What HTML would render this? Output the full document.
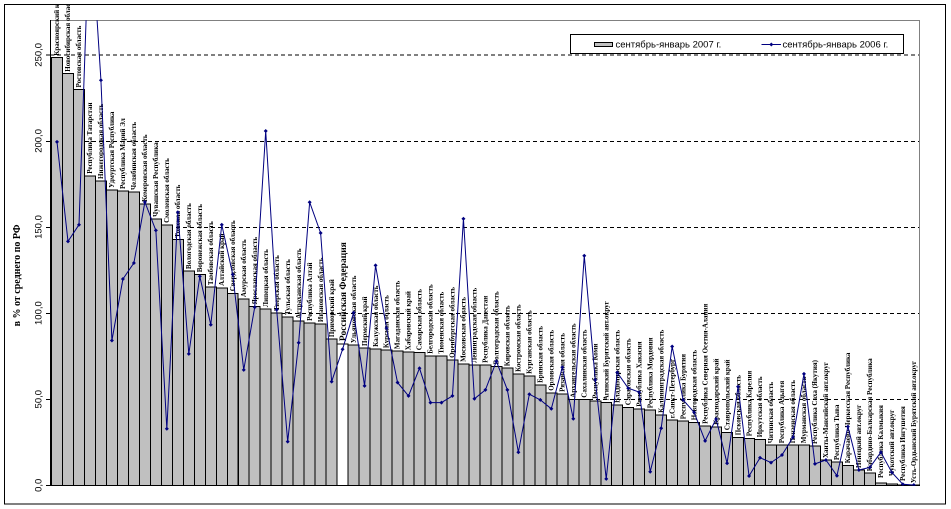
<!DOCTYPE html>
<html><head><meta charset="utf-8"><style>
html,body{margin:0;padding:0;background:#fff;}
svg{display:block;}
.lb{font-family:"Liberation Serif","DejaVu Serif",serif;font-size:7px;font-weight:bold;fill:#000;}
.tk{font-family:"Liberation Sans","DejaVu Sans",sans-serif;font-size:9.5px;fill:#000;}
</style></head><body>
<svg width="951" height="509" viewBox="0 0 951 509" xmlns="http://www.w3.org/2000/svg">
<defs>
<clipPath id="pc"><rect x="50" y="20.3" width="869.5" height="465.5"/></clipPath>
<clipPath id="fc"><rect x="5" y="5" width="940" height="499"/></clipPath>
<path id="m" d="M0,-2L2,0L0,2L-2,0Z" fill="#000080"/>
</defs>
<rect x="0" y="0" width="951" height="509" fill="#fff"/>
<rect x="4.5" y="4.5" width="941" height="499.5" fill="#fff" stroke="#000" stroke-width="1"/>

<g stroke="#000" stroke-width="1" stroke-dasharray="4 3" shape-rendering="crispEdges">
<line x1="50" y1="55" x2="919" y2="55"/>
<line x1="50" y1="141.5" x2="919" y2="141.5"/>
<line x1="50" y1="227.5" x2="919" y2="227.5"/>
<line x1="50" y1="313.5" x2="919" y2="313.5"/>
<line x1="50" y1="399.5" x2="919" y2="399.5"/>
</g>
<g stroke="#808080" stroke-width="1" shape-rendering="crispEdges">
<line x1="50" y1="20.5" x2="919.5" y2="20.5"/>
<line x1="919.5" y1="20" x2="919.5" y2="485.5"/>
</g>

<g fill="#c0c0c0" stroke="#000" stroke-width="1" shape-rendering="crispEdges">
<rect x="51.5" y="57.7" width="10.985" height="427.6"/>
<rect x="62.49" y="73.7" width="10.985" height="411.6"/>
<rect x="73.47" y="89.5" width="10.985" height="395.8"/>
<rect x="84.46" y="175.8" width="10.985" height="309.5"/>
<rect x="95.44" y="181.0" width="10.985" height="304.3"/>
<rect x="106.43" y="189.9" width="10.985" height="295.4"/>
<rect x="117.41" y="191.0" width="10.985" height="294.3"/>
<rect x="128.40" y="192.0" width="10.985" height="293.3"/>
<rect x="139.38" y="203.9" width="10.985" height="281.4"/>
<rect x="150.37" y="218.9" width="10.985" height="266.4"/>
<rect x="161.35" y="224.9" width="10.985" height="260.4"/>
<rect x="172.34" y="239.7" width="10.985" height="245.6"/>
<rect x="183.32" y="271.1" width="10.985" height="214.2"/>
<rect x="194.31" y="274.3" width="10.985" height="211.0"/>
<rect x="205.29" y="287.1" width="10.985" height="198.2"/>
<rect x="216.28" y="287.9" width="10.985" height="197.4"/>
<rect x="227.26" y="293.3" width="10.985" height="192.0"/>
<rect x="238.25" y="299.1" width="10.985" height="186.2"/>
<rect x="249.23" y="306.4" width="10.985" height="178.9"/>
<rect x="260.22" y="309.1" width="10.985" height="176.2"/>
<rect x="271.20" y="312.9" width="10.985" height="172.4"/>
<rect x="282.19" y="317.0" width="10.985" height="168.3"/>
<rect x="293.17" y="320.8" width="10.985" height="164.5"/>
<rect x="304.16" y="322.9" width="10.985" height="162.4"/>
<rect x="315.14" y="324.1" width="10.985" height="161.2"/>
<rect x="326.13" y="339.1" width="10.985" height="146.2"/>
<rect x="337.11" y="344.1" width="10.985" height="141.2" fill="#fff"/>
<rect x="348.10" y="345.1" width="10.985" height="140.2"/>
<rect x="359.08" y="348.0" width="10.985" height="137.3"/>
<rect x="370.07" y="348.9" width="10.985" height="136.4"/>
<rect x="381.05" y="350.1" width="10.985" height="135.2"/>
<rect x="392.04" y="351.1" width="10.985" height="134.2"/>
<rect x="403.02" y="352.2" width="10.985" height="133.1"/>
<rect x="414.01" y="352.3" width="10.985" height="133.0"/>
<rect x="424.99" y="355.8" width="10.985" height="129.5"/>
<rect x="435.98" y="355.8" width="10.985" height="129.5"/>
<rect x="446.96" y="359.9" width="10.985" height="125.4"/>
<rect x="457.95" y="363.9" width="10.985" height="121.4"/>
<rect x="468.93" y="364.9" width="10.985" height="120.4"/>
<rect x="479.92" y="364.9" width="10.985" height="120.4"/>
<rect x="490.90" y="366.5" width="10.985" height="118.8"/>
<rect x="501.89" y="368.2" width="10.985" height="117.1"/>
<rect x="512.87" y="373.9" width="10.985" height="111.4"/>
<rect x="523.86" y="375.9" width="10.985" height="109.4"/>
<rect x="534.84" y="384.9" width="10.985" height="100.4"/>
<rect x="545.83" y="392.8" width="10.985" height="92.5"/>
<rect x="556.81" y="393.9" width="10.985" height="91.4"/>
<rect x="567.80" y="399.7" width="10.985" height="85.6"/>
<rect x="578.78" y="399.7" width="10.985" height="85.6"/>
<rect x="589.77" y="400.9" width="10.985" height="84.4"/>
<rect x="600.75" y="402.3" width="10.985" height="83.0"/>
<rect x="611.74" y="404.9" width="10.985" height="80.4"/>
<rect x="622.72" y="407.3" width="10.985" height="78.0"/>
<rect x="633.71" y="408.8" width="10.985" height="76.5"/>
<rect x="644.69" y="410.2" width="10.985" height="75.1"/>
<rect x="655.68" y="414.9" width="10.985" height="70.4"/>
<rect x="666.66" y="420.2" width="10.985" height="65.1"/>
<rect x="677.65" y="421.2" width="10.985" height="64.1"/>
<rect x="688.63" y="422.3" width="10.985" height="63.0"/>
<rect x="699.62" y="425.9" width="10.985" height="59.4"/>
<rect x="710.60" y="426.9" width="10.985" height="58.4"/>
<rect x="721.59" y="432.3" width="10.985" height="53.0"/>
<rect x="732.57" y="437.3" width="10.985" height="48.0"/>
<rect x="743.56" y="438.3" width="10.985" height="47.0"/>
<rect x="754.54" y="439.3" width="10.985" height="46.0"/>
<rect x="765.53" y="445.2" width="10.985" height="40.1"/>
<rect x="776.51" y="445.2" width="10.985" height="40.1"/>
<rect x="787.50" y="445.2" width="10.985" height="40.1"/>
<rect x="798.48" y="445.2" width="10.985" height="40.1"/>
<rect x="809.47" y="446.0" width="10.985" height="39.3"/>
<rect x="820.45" y="460.0" width="10.985" height="25.3"/>
<rect x="831.44" y="462.1" width="10.985" height="23.2"/>
<rect x="842.42" y="465.3" width="10.985" height="20.0"/>
<rect x="853.41" y="470.0" width="10.985" height="15.3"/>
<rect x="864.39" y="473.2" width="10.985" height="12.1"/>
<rect x="875.38" y="483.2" width="10.985" height="2.1"/>
<rect x="886.36" y="483.9" width="10.985" height="1.4"/>
<rect x="897.35" y="484.8" width="10.985" height="0.5"/>
<rect x="908.33" y="485.1" width="10.985" height="0.2"/>
</g>

<g stroke="#000" stroke-width="1" shape-rendering="crispEdges">
<line x1="50.5" y1="20" x2="50.5" y2="485.5"/>
<line x1="50" y1="485.5" x2="919.5" y2="485.5"/>
<line x1="46" y1="485.5" x2="50" y2="485.5"/>
<line x1="46" y1="399.5" x2="50" y2="399.5"/>
<line x1="46" y1="313.5" x2="50" y2="313.5"/>
<line x1="46" y1="227.5" x2="50" y2="227.5"/>
<line x1="46" y1="141.5" x2="50" y2="141.5"/>
<line x1="46" y1="55" x2="50" y2="55"/>
</g>

<g class="tk" text-anchor="middle">
<text transform="translate(41.7 485.3) rotate(-90)">0,0</text>
<text transform="translate(41.7 399.2) rotate(-90)">50,0</text>
<text transform="translate(41.7 313.1) rotate(-90)">100,0</text>
<text transform="translate(41.7 227.0) rotate(-90)">150,0</text>
<text transform="translate(41.7 140.9) rotate(-90)">200,0</text>
<text transform="translate(41.7 54.8) rotate(-90)">250,0</text>
</g>
<text transform="translate(20 275.5) rotate(-90)" text-anchor="middle" style="font-family:'Liberation Serif','DejaVu Serif',serif;font-size:10px;font-weight:bold;fill:#000">в % от среднего по РФ</text>

<g class="lb" clip-path="url(#fc)">
<text transform="translate(59.2 55.7) rotate(-90)">Красноярский край</text>
<text transform="translate(70.2 71.7) rotate(-90)">Новосибирская область</text>
<text transform="translate(81.2 87.5) rotate(-90)">Ростовская область</text>
<text transform="translate(92.2 173.8) rotate(-90)">Республика Татарстан</text>
<text transform="translate(103.1 179.0) rotate(-90)">Нижегородская область</text>
<text transform="translate(114.1 187.9) rotate(-90)">Удмуртская Республика</text>
<text transform="translate(125.1 189.0) rotate(-90)">Республика Марий Эл</text>
<text transform="translate(136.1 190.0) rotate(-90)">Челябинская область</text>
<text transform="translate(147.1 201.9) rotate(-90)">Кемеровская область</text>
<text transform="translate(158.1 216.9) rotate(-90)">Чувашская Республика</text>
<text transform="translate(169.0 222.9) rotate(-90)">Смоленская область</text>
<text transform="translate(180.0 237.7) rotate(-90)">Томская область</text>
<text transform="translate(191.0 269.1) rotate(-90)">Вологодская область</text>
<text transform="translate(202.0 272.3) rotate(-90)">Воронежская область</text>
<text transform="translate(213.0 285.1) rotate(-90)">Тамбовская область</text>
<text transform="translate(224.0 285.9) rotate(-90)">Алтайский край</text>
<text transform="translate(235.0 291.3) rotate(-90)">Свердловская область</text>
<text transform="translate(245.9 297.1) rotate(-90)">Амурская область</text>
<text transform="translate(256.9 304.4) rotate(-90)">Ярославская область</text>
<text transform="translate(267.9 307.1) rotate(-90)">Липецкая область</text>
<text transform="translate(278.9 310.9) rotate(-90)">Тверская область</text>
<text transform="translate(289.9 315.0) rotate(-90)">Тульская область</text>
<text transform="translate(300.9 318.8) rotate(-90)">Астраханская область</text>
<text transform="translate(311.9 320.9) rotate(-90)">Республика Алтай</text>
<text transform="translate(322.8 322.1) rotate(-90)">Ивановская область</text>
<text transform="translate(333.8 337.1) rotate(-90)">Приморский край</text>
<text transform="translate(345.8 341.1) rotate(-90)" style="font-size:9.5px;font-weight:bold">Российская Федерация</text>
<text transform="translate(355.8 343.1) rotate(-90)">Ульяновская область</text>
<text transform="translate(366.8 346.0) rotate(-90)">Пермский край</text>
<text transform="translate(377.8 346.9) rotate(-90)">Калужская область</text>
<text transform="translate(388.7 348.1) rotate(-90)">Курская область</text>
<text transform="translate(399.7 349.1) rotate(-90)">Магаданская область</text>
<text transform="translate(410.7 350.2) rotate(-90)">Хабаровский край</text>
<text transform="translate(421.7 350.3) rotate(-90)">Самарская область</text>
<text transform="translate(432.7 353.8) rotate(-90)">Белгородская область</text>
<text transform="translate(443.7 353.8) rotate(-90)">Тюменская область</text>
<text transform="translate(454.7 357.9) rotate(-90)">Оренбургская область</text>
<text transform="translate(465.6 361.9) rotate(-90)">Московская область</text>
<text transform="translate(476.6 362.9) rotate(-90)">Ленинградская область</text>
<text transform="translate(487.6 362.9) rotate(-90)">Республика Дагестан</text>
<text transform="translate(498.6 364.5) rotate(-90)">Волгоградская область</text>
<text transform="translate(509.6 366.2) rotate(-90)">Кировская область</text>
<text transform="translate(520.6 371.9) rotate(-90)">Костромская область</text>
<text transform="translate(531.6 373.9) rotate(-90)">Курганская область</text>
<text transform="translate(542.5 382.9) rotate(-90)">Брянская область</text>
<text transform="translate(553.5 390.8) rotate(-90)">Орловская область</text>
<text transform="translate(564.5 391.9) rotate(-90)">Рязанская область</text>
<text transform="translate(575.5 397.7) rotate(-90)">Архангельская область</text>
<text transform="translate(586.5 397.7) rotate(-90)">Сахалинская область</text>
<text transform="translate(597.5 398.9) rotate(-90)">Республика Коми</text>
<text transform="translate(608.4 400.3) rotate(-90)">Агинский Бурятский авт.округ</text>
<text transform="translate(619.4 402.9) rotate(-90)">Владимирская область</text>
<text transform="translate(630.4 405.3) rotate(-90)">Саратовская область</text>
<text transform="translate(641.4 406.8) rotate(-90)">Республика Хакасия</text>
<text transform="translate(652.4 408.2) rotate(-90)">Республика Мордовия</text>
<text transform="translate(663.4 412.9) rotate(-90)">Калининградская область</text>
<text transform="translate(674.4 418.2) rotate(-90)">г.Санкт-Петербург</text>
<text transform="translate(685.3 419.2) rotate(-90)">Республика Бурятия</text>
<text transform="translate(696.3 420.3) rotate(-90)">Новгородская область</text>
<text transform="translate(707.3 423.9) rotate(-90)">Республика Северная Осетия-Алания</text>
<text transform="translate(718.3 424.9) rotate(-90)">Краснодарский край</text>
<text transform="translate(729.3 430.3) rotate(-90)">Ставропольский край</text>
<text transform="translate(740.3 435.3) rotate(-90)">Псковская область</text>
<text transform="translate(751.3 436.3) rotate(-90)">Республика Карелия</text>
<text transform="translate(762.2 437.3) rotate(-90)">Иркутская область</text>
<text transform="translate(773.2 443.2) rotate(-90)">Читинская область</text>
<text transform="translate(784.2 443.2) rotate(-90)">Республика Адыгея</text>
<text transform="translate(795.2 443.2) rotate(-90)">Пензенская область</text>
<text transform="translate(806.2 443.2) rotate(-90)">Мурманская область</text>
<text transform="translate(817.2 444.0) rotate(-90)">Республика Саха (Якутия)</text>
<text transform="translate(828.1 458.0) rotate(-90)">Ханты-Мансийский авт.округ</text>
<text transform="translate(839.1 460.1) rotate(-90)">Республика Тыва</text>
<text transform="translate(850.1 463.3) rotate(-90)">Карачаево-Черкесская Республика</text>
<text transform="translate(861.1 468.0) rotate(-90)">Ненецкий авт.округ</text>
<text transform="translate(872.1 471.2) rotate(-90)">Кабардино-Балкарская Республика</text>
<text transform="translate(883.1 478.0) rotate(-90)">Республика Калмыкия</text>
<text transform="translate(894.1 476.0) rotate(-90)">Чукотский авт.округ</text>
<text transform="translate(905.0 481.0) rotate(-90)">Республика Ингушетия</text>
<text transform="translate(916.0 483.1) rotate(-90)">Усть-Ордынский Бурятский авт.округ</text>
</g>

<g clip-path="url(#pc)">
<polyline fill="none" stroke="#000080" stroke-width="1" stroke-linejoin="round" points="57.0,141.9 68.0,241.4 79.0,224.7 89.95,-91.6 100.93,80.2 111.92,340.5 122.9,279.0 133.89,263.0 144.87,202.0 155.86,230.4 166.84,428.8 177.83,212.3 188.81,353.9 199.8,276.4 210.78,324.8 221.77,224.7 232.75,274.5 243.74,369.9 254.72,307.2 265.71,131.0 276.69,309.8 287.68,441.6 298.66,342.7 309.65,202.2 320.63,233.0 331.62,381.6 342.6,349.2 353.59,312.6 364.57,385.9 375.56,265.4 386.54,328.1 397.53,382.5 408.51,395.9 419.5,368.2 430.48,402.6 441.47,402.6 452.45,395.9 463.44,218.7 474.42,398.8 485.41,389.9 496.39,361.3 507.38,389.9 518.36,452.2 529.35,394.2 540.33,399.9 551.32,408.8 562.3,367.2 573.29,418.7 584.27,255.7 595.26,379.9 606.24,478.9 617.23,372.5 628.21,388.2 639.2,392.1 650.18,471.7 661.17,428.3 672.15,346.5 683.14,399.9 694.12,412.3 705.11,440.9 716.09,419.0 727.08,463.3 738.06,386.6 749.05,476.0 760.03,457.7 771.02,462.6 782.0,455.0 792.99,437.3 803.97,373.9 814.96,463.9 825.94,460.0 836.93,475.7 847.91,426.6 858.9,470.0 869.88,467.4 880.87,452.2 891.85,472.4 902.84,484.3 913.82,485.0"/>
<use href="#m" x="57.0" y="141.9"/><use href="#m" x="68.0" y="241.4"/><use href="#m" x="79.0" y="224.7"/><use href="#m" x="100.93" y="80.2"/><use href="#m" x="111.92" y="340.5"/><use href="#m" x="122.9" y="279.0"/><use href="#m" x="133.89" y="263.0"/><use href="#m" x="144.87" y="202.0"/><use href="#m" x="155.86" y="230.4"/><use href="#m" x="166.84" y="428.8"/><use href="#m" x="177.83" y="212.3"/><use href="#m" x="188.81" y="353.9"/><use href="#m" x="199.8" y="276.4"/><use href="#m" x="210.78" y="324.8"/><use href="#m" x="221.77" y="224.7"/><use href="#m" x="232.75" y="274.5"/><use href="#m" x="243.74" y="369.9"/><use href="#m" x="254.72" y="307.2"/><use href="#m" x="265.71" y="131.0"/><use href="#m" x="276.69" y="309.8"/><use href="#m" x="287.68" y="441.6"/><use href="#m" x="298.66" y="342.7"/><use href="#m" x="309.65" y="202.2"/><use href="#m" x="320.63" y="233.0"/><use href="#m" x="331.62" y="381.6"/><use href="#m" x="342.6" y="349.2"/><use href="#m" x="353.59" y="312.6"/><use href="#m" x="364.57" y="385.9"/><use href="#m" x="375.56" y="265.4"/><use href="#m" x="386.54" y="328.1"/><use href="#m" x="397.53" y="382.5"/><use href="#m" x="408.51" y="395.9"/><use href="#m" x="419.5" y="368.2"/><use href="#m" x="430.48" y="402.6"/><use href="#m" x="441.47" y="402.6"/><use href="#m" x="452.45" y="395.9"/><use href="#m" x="463.44" y="218.7"/><use href="#m" x="474.42" y="398.8"/><use href="#m" x="485.41" y="389.9"/><use href="#m" x="496.39" y="361.3"/><use href="#m" x="507.38" y="389.9"/><use href="#m" x="518.36" y="452.2"/><use href="#m" x="529.35" y="394.2"/><use href="#m" x="540.33" y="399.9"/><use href="#m" x="551.32" y="408.8"/><use href="#m" x="562.3" y="367.2"/><use href="#m" x="573.29" y="418.7"/><use href="#m" x="584.27" y="255.7"/><use href="#m" x="595.26" y="379.9"/><use href="#m" x="606.24" y="478.9"/><use href="#m" x="617.23" y="372.5"/><use href="#m" x="628.21" y="388.2"/><use href="#m" x="639.2" y="392.1"/><use href="#m" x="650.18" y="471.7"/><use href="#m" x="661.17" y="428.3"/><use href="#m" x="672.15" y="346.5"/><use href="#m" x="683.14" y="399.9"/><use href="#m" x="694.12" y="412.3"/><use href="#m" x="705.11" y="440.9"/><use href="#m" x="716.09" y="419.0"/><use href="#m" x="727.08" y="463.3"/><use href="#m" x="738.06" y="386.6"/><use href="#m" x="749.05" y="476.0"/><use href="#m" x="760.03" y="457.7"/><use href="#m" x="771.02" y="462.6"/><use href="#m" x="782.0" y="455.0"/><use href="#m" x="792.99" y="437.3"/><use href="#m" x="803.97" y="373.9"/><use href="#m" x="814.96" y="463.9"/><use href="#m" x="825.94" y="460.0"/><use href="#m" x="836.93" y="475.7"/><use href="#m" x="847.91" y="426.6"/><use href="#m" x="858.9" y="470.0"/><use href="#m" x="869.88" y="467.4"/><use href="#m" x="880.87" y="452.2"/><use href="#m" x="891.85" y="472.4"/><use href="#m" x="902.84" y="484.3"/><use href="#m" x="913.82" y="485.0"/>
</g>

<rect x="570.5" y="34.5" width="333" height="19" fill="#fff" stroke="#000" stroke-width="1" shape-rendering="crispEdges"/>
<rect x="594.5" y="42.5" width="18" height="4" fill="#c0c0c0" stroke="#000" stroke-width="1" shape-rendering="crispEdges"/>
<text x="615.5" y="47.5" class="tk">сентябрь-январь 2007 г.</text>
<line x1="761.5" y1="44.5" x2="781" y2="44.5" stroke="#000080" stroke-width="1"/>
<use href="#m" x="771.3" y="44.5"/>
<text x="782.5" y="47.5" class="tk">сентябрь-январь 2006 г.</text>
</svg>
</body></html>
